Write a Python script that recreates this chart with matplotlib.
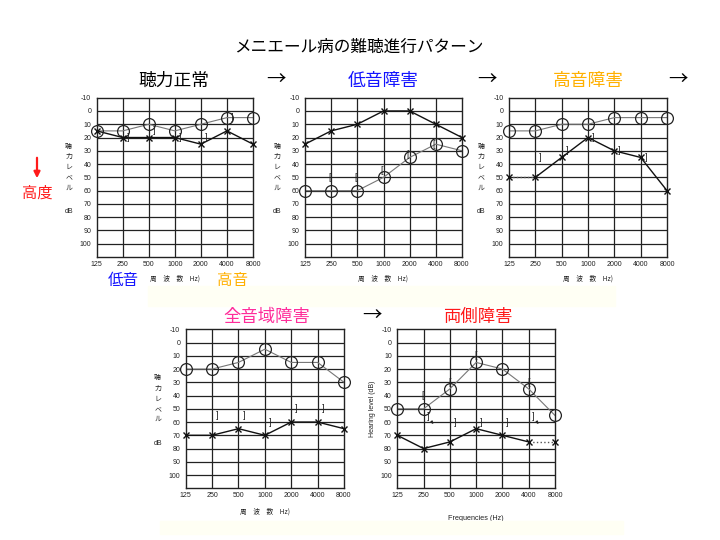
import numpy as np
import matplotlib
matplotlib.use("Agg")
import matplotlib.pyplot as plt
from matplotlib.patches import Rectangle, FancyArrowPatch

plt.rcParams['font.family'] = ['Liberation Sans', 'Noto Sans CJK JP', 'DejaVu Sans']
plt.rcParams['axes.unicode_minus'] = False

W, H = 720, 540
CJK = ['Noto Sans CJK JP', 'DejaVu Sans']

# frequencies (Hz) and tick labels
freqs = [125, 250, 500, 1000, 2000, 4000, 8000]
freq_labels = ['125', '250', '500', '1000', '2000', '4000', '8000']
db_ticks = list(range(-10, 101, 10))

# 聴力正常
normal_o = [15, 15, 10, 15, 10, 5, 5]
normal_x = [15, 20, 20, 20, 25, 15, 25]
normal_bf = [250, 500, 1000, 2000, 4000]
normal_bv = [20, 15, 20, 20, 5]

# 低音障害
low_o = [60, 60, 60, 50, 35, 25, 30]
low_x = [25, 15, 10, 0, 0, 10, 20]
low_bf = [250, 500, 1000, 2000, 4000]
low_bv = [50, 50, 45, 33, 25]

# 高音障害
high_o = [15, 15, 10, 10, 5, 5, 5]
high_x = [50, 50, 35, 20, 30, 35, 60]
high_bf = [250, 500, 1000, 2000, 4000]
high_bv = [35, 30, 20, 30, 35]

# 全音域障害
all_o = [20, 20, 15, 5, 15, 15, 30]
all_x = [70, 70, 65, 70, 60, 60, 65]
all_bf = [250, 500, 1000, 2000, 4000]
all_bv = [55, 55, 60, 50, 50]

# 両側障害
both_o = [50, 50, 35, 15, 20, 35, 55]
both_x = [70, 80, 75, 65, 70, 75, 75]
both_rbf = [250, 500, 1000, 4000]
both_rbv = [40, 30, 10, 30]
both_lbf = [500, 1000, 2000]
both_lbv = [60, 60, 60]
both_nrf = [250, 4000]
both_nrv = [56, 56]


def fx(px):
    return px / W


def fy(py):
    return 1 - py / H


def make_axes(fig, l, r, t, b):
    ax = fig.add_axes([l / W, 1 - b / H, (r - l) / W, (b - t) / H])
    ax.set_xscale('log', base=2)
    ax.set_xlim(125, 8000)
    ax.set_ylim(110, -10)
    ax.set_xticks(freqs)
    ax.set_xticklabels(freq_labels)
    ax.minorticks_off()
    ax.set_yticks(db_ticks)
    for f in freqs[1:-1]:
        ax.axvline(f, color='#222222', lw=0.9, zorder=1)
    for d in range(0, 110, 10):
        ax.axhline(d, color='#222222', lw=0.9, zorder=1)
    for s in ax.spines.values():
        s.set_color('#222222')
        s.set_linewidth(1.0)
    ax.tick_params(length=0, labelsize=5, colors='#222222')
    ax.tick_params(axis='x', pad=3)
    ax.tick_params(axis='y', pad=4)
    return ax


def draw_series(ax, o_vals, x_vals, x_dotted=None):
    ax.plot(freqs, o_vals, color='#777777', lw=0.8, zorder=2)
    ax.plot(freqs, o_vals, ls='none', marker='o', ms=8.5, mfc='none',
            mec='#222222', mew=0.9, zorder=4, clip_on=False)
    if x_dotted is None:
        ax.plot(freqs, x_vals, color='#111111', lw=1.0, zorder=2)
    else:
        a, b = x_dotted
        ax.plot(freqs[a:b + 1], x_vals[a:b + 1], color='#555555', lw=1.0,
                ls=':', zorder=2)
        if a > 0:
            ax.plot(freqs[:a + 1], x_vals[:a + 1], color='#111111', lw=1.0, zorder=2)
        if b < len(freqs) - 1:
            ax.plot(freqs[b:], x_vals[b:], color='#111111', lw=1.0, zorder=2)
    ax.plot(freqs, x_vals, ls='none', marker='x', ms=4, mec='#111111',
            mew=1.0, zorder=4, clip_on=False)


def brackets(ax, fs, vs, sym, shift):
    for f, v in zip(fs, vs):
        ax.text(f * 2 ** shift, v, sym, fontsize=6.5, ha='center', va='center',
                color='#222222', zorder=5)


def side_label(fig, l, t):
    for i, ch in enumerate('聴力レベル'):
        fig.text(fx(l - 28), fy(t + 49 + 10.2 * i), ch, fontsize=5,
                 ha='center', va='center', family=CJK, color='#222222')
    fig.text(fx(l - 28), fy(t + 114), 'dB', fontsize=5, ha='center',
             va='center', color='#222222')


def freq_label(fig, l, r, y):
    fig.text(fx((l + r) / 2), fy(y), '周　波　数　Hz)', fontsize=4.8,
             ha='center', va='center', family=CJK, color='#222222')


fig = plt.figure(figsize=(7.2, 5.4), dpi=100)

# pale background strips
fig.patches.append(Rectangle((fx(148), fy(306)), (615 - 148) / W, 20 / H,
                             transform=fig.transFigure, color='#FFFFF4', zorder=0))
fig.patches.append(Rectangle((fx(160), fy(534)), (623 - 160) / W, 13 / H,
                             transform=fig.transFigure, color='#FFFFF4', zorder=0))

fig.text(fx(359), fy(47), 'メニエール病の難聴進行パターン', fontsize=12,
         ha='center', va='center', family=CJK)

# panel 1
ax1 = make_axes(fig, 96.7, 253, 97.7, 257)
draw_series(ax1, normal_o, normal_x)
brackets(ax1, normal_bf, normal_bv, ']', 0.22)
side_label(fig, 96.7, 97.7)
freq_label(fig, 96.7, 253, 279)

# panel 2
ax2 = make_axes(fig, 305, 462, 97.7, 257)
draw_series(ax2, low_o, low_x)
brackets(ax2, low_bf, low_bv, '[', -0.07)
side_label(fig, 305, 97.7)
freq_label(fig, 305, 462, 279)

# panel 3
ax3 = make_axes(fig, 509, 667, 97.7, 257)
draw_series(ax3, high_o, high_x, x_dotted=(0, 1))
brackets(ax3, high_bf, high_bv, ']', 0.2)
side_label(fig, 509, 97.7)
freq_label(fig, 509, 667, 279)

# panel 4
ax4 = make_axes(fig, 185.7, 344, 329.3, 488.3)
draw_series(ax4, all_o, all_x)
brackets(ax4, all_bf, all_bv, ']', 0.2)
side_label(fig, 185.7, 329.3)
freq_label(fig, 185.7, 344, 511.7)

# panel 5
ax5 = make_axes(fig, 397.3, 555, 329.3, 488.3)
draw_series(ax5, both_o, both_x, x_dotted=(5, 6))
brackets(ax5, both_rbf, both_rbv, '[', -0.02)
brackets(ax5, both_lbf, both_lbv, ']', 0.2)
for f, v in zip(both_nrf, both_nrv):
    ax5.text(f * 2 ** 0.18, v, ']', fontsize=6.5, ha='center', va='center',
             color='#222222', zorder=5)
    ax5.annotate('', xy=(f * 2 ** 0.45, v + 7), xytext=(f * 2 ** 0.22, v + 2),
                 arrowprops=dict(arrowstyle='-|>', lw=0.7, color='#222222',
                                 mutation_scale=4))
ax5.set_ylabel('Hearing level (dB)', fontsize=5, labelpad=3, color='#222222')
ax5.set_xlabel('Frequencies (Hz)', fontsize=5.2, labelpad=11, color='#222222')

# panel titles and arrows
fig.text(fx(174), fy(81), '聴力正常', fontsize=12.8, ha='center', va='center',
         family=CJK, color='black')
fig.text(fx(383), fy(81), '低音障害', fontsize=12.8, ha='center', va='center',
         family=CJK, color='#1414FF')
fig.text(fx(588), fy(81), '高音障害', fontsize=12.8, ha='center', va='center',
         family=CJK, color='#FFB000')
fig.text(fx(266.7), fy(317), '全音域障害', fontsize=12.5, ha='center', va='center',
         family=CJK, color='#FF2E9A')
fig.text(fx(478), fy(317), '両側障害', fontsize=12.5, ha='center', va='center',
         family=CJK, color='#FF1A1A')
for ax_, ay_ in [(276, 79), (487, 79), (678, 79), (372, 315)]:
    fig.text(fx(ax_), fy(ay_), '→', fontsize=14, ha='center', va='center',
             family=CJK, color='black')

# side annotations
fig.patches.append(FancyArrowPatch(
    (fx(37), fy(155)), (fx(37), fy(181)), transform=fig.transFigure,
    arrowstyle='-|>', mutation_scale=9, lw=1.6, color='#FF1A1A'))
fig.text(fx(37), fy(193), '高度', fontsize=11, ha='center', va='center',
         family=CJK, color='#FF1A1A')
fig.text(fx(123), fy(281), '低音', fontsize=11.2, ha='center', va='center',
         family=CJK, color='#1414FF')
fig.text(fx(233), fy(281), '高音', fontsize=11.2, ha='center', va='center',
         family=CJK, color='#FFB000')

plt.savefig('out.png', dpi=100)
